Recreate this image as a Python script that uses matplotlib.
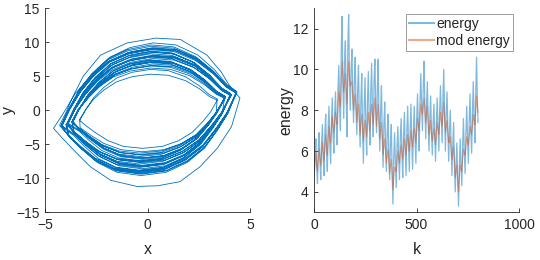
import matplotlib
matplotlib.use('Agg')
import matplotlib.pyplot as plt

plt.rcParams['font.family'] = ['Liberation Sans', 'DejaVu Sans']

# ---- left panel: phase trajectory (x, y), one row per loop (top arc, then bottom arc) ----
traj_x = [
    -3.67, -3.35, -2.93, -2.37, -1.67, -0.84, 0.14, 1.12, 2.05, 2.79, 3.35, 3.77, 3.39, 2.98, 2.42, 1.67, 0.79, -0.28, -1.3, -2.14, -2.79, -3.3,
    -3.9, -3.55, -3.05, -2.45, -1.7, -0.8, 0.25, 1.3, 2.3, 3.05, 3.62, 4.08, 3.6, 3.12, 2.5, 1.7, 0.75, -0.4, -1.5, -2.4, -3.08, -3.6,
    -3.95, -3.6, -3.15, -2.55, -1.8, -0.9, 0.15, 1.2, 2.2, 3.0, 3.6, 4.05, 3.65, 3.2, 2.6, 1.8, 0.85, -0.3, -1.4, -2.3, -3.0, -3.55,
    -4.2, -3.8, -3.28, -2.63, -1.83, -0.86, 0.26, 1.38, 2.45, 3.27, 3.88, 4.36, 3.86, 3.35, 2.7, 1.83, 0.81, -0.42, -1.6, -2.56, -3.28, -3.85,
    -4.23, -3.85, -3.37, -2.73, -1.93, -0.96, 0.16, 1.28, 2.35, 3.21, 3.85, 4.33, 3.91, 3.42, 2.78, 1.93, 0.91, -0.32, -1.5, -2.46, -3.21, -3.8,
    -4.2, -3.8, -3.28, -2.63, -1.83, -0.86, 0.26, 1.38, 2.45, 3.27, 3.88, 4.36, 3.86, 3.35, 2.7, 1.83, 0.81, -0.42, -1.6, -2.56, -3.28, -3.85,
    -3.95, -3.6, -3.15, -2.55, -1.8, -0.9, 0.15, 1.2, 2.2, 3.0, 3.6, 4.05, 3.65, 3.2, 2.6, 1.8, 0.85, -0.3, -1.4, -2.3, -3.0, -3.55,
    -3.9, -3.55, -3.05, -2.45, -1.7, -0.8, 0.25, 1.3, 2.3, 3.05, 3.62, 4.08, 3.6, 3.12, 2.5, 1.7, 0.75, -0.4, -1.5, -2.4, -3.08, -3.6,
    -3.67, -3.35, -2.93, -2.37, -1.67, -0.84, 0.14, 1.12, 2.05, 2.79, 3.35, 3.77, 3.39, 2.98, 2.42, 1.67, 0.79, -0.28, -1.3, -2.14, -2.79, -3.3,
    -3.7, -3.38, -2.85, -2.27, -1.57, -0.74, 0.24, 1.22, 2.15, 2.85, 3.38, 3.8, 3.35, 2.92, 2.34, 1.57, 0.69, -0.38, -1.4, -2.24, -2.86, -3.34,
    -3.67, -3.35, -2.93, -2.37, -1.67, -0.84, 0.14, 1.12, 2.05, 2.79, 3.35, 3.77, 3.39, 2.98, 2.42, 1.67, 0.79, -0.28, -1.3, -2.14, -2.79, -3.3,
    -3.32, -3.02, -2.65, -2.14, -1.51, -0.76, 0.13, 1.01, 1.85, 2.52, 3.02, 3.4, 3.07, 2.69, 2.18, 1.51, 0.71, -0.25, -1.18, -1.93, -2.52, -2.98,
    -3.32, -3.02, -2.65, -2.14, -1.51, -0.76, 0.13, 1.01, 1.85, 2.52, 3.02, 3.4, 3.35, 2.92, 2.34, 1.57, 0.69, -0.38, -1.4, -2.24, -2.86, -3.34,
    -3.7, -3.38, -2.85, -2.27, -1.57, -0.74, 0.24, 1.22, 2.15, 2.85, 3.38, 3.8, 3.39, 2.98, 2.42, 1.67, 0.79, -0.28, -1.3, -2.14, -2.79, -3.3,
    -3.67, -3.35, -2.93, -2.37, -1.67, -0.84, 0.14, 1.12, 2.05, 2.79, 3.35, 3.77, 3.65, 3.2, 2.6, 1.8, 0.85, -0.3, -1.4, -2.3, -3.0, -3.55,
    -3.9, -3.55, -3.05, -2.45, -1.7, -0.8, 0.25, 1.3, 2.3, 3.05, 3.62, 4.08, 3.6, 3.12, 2.5, 1.7, 0.75, -0.4, -1.5, -2.4, -3.08, -3.6,
    -4.23, -3.85, -3.37, -2.73, -1.93, -0.96, 0.16, 1.28, 2.35, 3.21, 3.85, 4.33, 3.91, 3.42, 2.78, 1.93, 0.91, -0.32, -1.5, -2.46, -3.21, -3.8,
    -4.3, -4.0, -3.7, -3.15, -2.3, -1.0, 0.4, 1.6, 2.9, 3.6, 4.0, 4.51, 4.1, 3.4, 2.56, 1.58, 0.5, -0.53, -1.8, -2.8, -3.63, -4.2,
    -4.6, -4.15, -3.55, -2.8, -1.93, -0.96, 0.16, 1.28, 2.35, 3.21, 3.85, 4.33, 3.86, 3.35, 2.7, 1.83, 0.81, -0.42, -1.6, -2.56, -3.28, -3.85,
    -3.95, -3.6, -3.15, -2.55, -1.8, -0.9, 0.15, 1.2, 2.2, 3.0, 3.6, 4.05, 3.65, 3.2, 2.6, 1.8, 0.85, -0.3, -1.4, -2.3, -3.0, -3.55,
    -3.9, -3.55, -3.05, -2.45, -1.7, -0.8, 0.25, 1.3, 2.3, 3.05, 3.62, 4.08, 3.6, 3.12, 2.5, 1.7, 0.75, -0.4, -1.5, -2.4, -3.08, -3.6,
    -3.7, -3.38, -2.85, -2.27, -1.57, -0.74, 0.24, 1.22, 2.15, 2.85, 3.38, 3.8, 3.35, 2.92, 2.34, 1.57, 0.69, -0.38, -1.4, -2.24, -2.86, -3.34,
    -3.67, -3.35, -2.93, -2.37, -1.67, -0.84, 0.14, 1.12, 2.05, 2.79, 3.35, 3.77, 3.39, 2.98, 2.42, 1.67, 0.79, -0.28, -1.3, -2.14, -2.79, -3.3,
    -3.7, -3.38, -2.85, -2.27, -1.57, -0.74, 0.24, 1.22, 2.15, 2.85, 3.38, 3.8, 3.35, 2.92, 2.34, 1.57, 0.69, -0.38, -1.4, -2.24, -2.86, -3.34,
    -3.95, -3.6, -3.15, -2.55, -1.8, -0.9, 0.15, 1.2, 2.2, 3.0, 3.6, 4.05, 3.65, 3.2, 2.6, 1.8, 0.85, -0.3, -1.4, -2.3, -3.0, -3.55,
    -3.9, -3.55, -3.05, -2.45, -1.7, -0.8, 0.25, 1.3, 2.3, 3.05, 3.62, 4.08, 3.6, 3.12, 2.5, 1.7, 0.75, -0.4, -1.5, -2.4, -3.08, -3.6,
    -4.23, -3.85, -3.37, -2.73, -1.93, -0.96, 0.16, 1.28, 2.35, 3.21, 3.85, 4.33, 3.91, 3.42, 2.78, 1.93, 0.91, -0.32, -1.5, -2.46, -3.21, -3.8,
    -4.2, -3.8, -3.28, -2.63, -1.83, -0.86, 0.26, 1.38, 2.45, 3.27, 3.88, 4.36, 3.86, 3.35, 2.7, 1.83, 0.81, -0.42, -1.6, -2.56, -3.28, -3.85,
    -4.0,
]
traj_y = [
    -1.75, 0.14, 2.1, 3.92, 5.53, 6.51, 7.0, 6.79, 5.74, 4.2, 2.66, 1.96, -0.36, -2.16, -4.18, -5.76, -6.84, -7.2, -6.84, -5.76, -4.32, -3.02,
    -1.9, 0.15, 2.28, 4.26, 6.0, 7.07, 7.6, 7.37, 6.23, 4.56, 2.89, 2.13, -0.4, -2.37, -4.58, -6.32, -7.5, -7.9, -7.5, -6.32, -4.74, -3.32,
    -2.08, 0.17, 2.49, 4.65, 6.56, 7.72, 8.3, 8.05, 6.81, 4.98, 3.15, 2.32, -0.43, -2.58, -4.99, -6.88, -8.17, -8.6, -8.17, -6.88, -5.16, -3.61,
    -2.25, 0.18, 2.7, 5.04, 7.11, 8.37, 9.0, 8.73, 7.38, 5.4, 3.42, 2.52, -0.46, -2.73, -5.28, -7.28, -8.65, -9.1, -8.65, -7.28, -5.46, -3.82,
    -2.4, 0.19, 2.88, 5.38, 7.58, 8.93, 9.6, 9.31, 7.87, 5.76, 3.65, 2.69, -0.47, -2.82, -5.45, -7.52, -8.93, -9.4, -8.93, -7.52, -5.64, -3.95,
    -2.3, 0.18, 2.76, 5.15, 7.27, 8.56, 9.2, 8.92, 7.54, 5.52, 3.5, 2.58, -0.44, -2.64, -5.1, -7.04, -8.36, -8.8, -8.36, -7.04, -5.28, -3.7,
    -2.15, 0.17, 2.58, 4.82, 6.79, 8.0, 8.6, 8.34, 7.05, 5.16, 3.27, 2.41, -0.41, -2.46, -4.76, -6.56, -7.79, -8.2, -7.79, -6.56, -4.92, -3.44,
    -1.98, 0.16, 2.37, 4.42, 6.24, 7.35, 7.9, 7.66, 6.48, 4.74, 3.0, 2.21, -0.38, -2.25, -4.35, -6.0, -7.13, -7.5, -7.13, -6.0, -4.5, -3.15,
    -1.83, 0.15, 2.19, 4.09, 5.77, 6.79, 7.3, 7.08, 5.99, 4.38, 2.77, 2.04, -0.35, -2.1, -4.06, -5.6, -6.65, -7.0, -6.65, -5.6, -4.2, -2.94,
    -1.7, 0.14, 2.04, 3.81, 5.37, 6.32, 6.8, 6.6, 5.58, 4.08, 2.58, 1.9, -0.33, -1.95, -3.77, -5.2, -6.18, -6.5, -6.18, -5.2, -3.9, -2.73,
    -1.55, 0.12, 1.86, 3.47, 4.9, 5.77, 6.2, 6.01, 5.08, 3.72, 2.36, 1.74, -0.31, -1.83, -3.54, -4.88, -5.8, -6.1, -5.8, -4.88, -3.66, -2.56,
    -1.33, 0.11, 1.59, 2.97, 4.19, 4.93, 5.3, 5.14, 4.35, 3.18, 2.01, 1.48, -0.28, -1.68, -3.25, -4.48, -5.32, -5.6, -5.32, -4.48, -3.36, -2.35,
    -1.5, 0.12, 1.8, 3.36, 4.74, 5.58, 6.0, 5.82, 4.92, 3.6, 2.28, 1.68, -0.32, -1.89, -3.65, -5.04, -5.99, -6.3, -5.99, -5.04, -3.78, -2.65,
    -1.65, 0.13, 1.98, 3.7, 5.21, 6.14, 6.6, 6.4, 5.41, 3.96, 2.51, 1.85, -0.33, -2.05, -4.1, -5.65, -6.7, -7.05, -6.7, -5.55, -4.15, -2.9,
    -1.85, 0.15, 2.22, 4.14, 5.85, 6.88, 7.4, 7.18, 6.07, 4.44, 2.81, 2.07, -0.39, -2.31, -4.47, -6.16, -7.32, -7.7, -7.32, -6.16, -4.62, -3.23,
    -2.03, 0.16, 2.43, 4.54, 6.4, 7.53, 8.1, 7.86, 6.64, 4.86, 3.08, 2.27, -0.42, -2.52, -4.87, -6.72, -7.98, -8.4, -7.98, -6.72, -5.04, -3.53,
    -2.23, 0.18, 2.67, 4.98, 7.03, 8.28, 8.9, 8.63, 7.3, 5.34, 3.38, 2.49, -0.47, -2.79, -5.39, -7.44, -8.84, -9.3, -8.84, -7.44, -5.58, -3.91,
    -2.2, -0.4, 1.7, 5.0, 8.1, 9.9, 10.6, 10.4, 8.1, 5.6, 3.6, 1.8, -2.4, -5.6, -8.3, -10.5, -11.1, -11.2, -10.3, -8.3, -5.8, -4.0,
    -2.65, -0.6, 2.4, 5.0, 7.43, 8.74, 9.4, 9.12, 7.71, 5.64, 3.57, 2.63, -0.45, -2.7, -5.22, -7.2, -8.55, -9.0, -8.55, -7.2, -5.4, -3.78,
    -2.18, 0.17, 2.61, 4.87, 6.87, 8.09, 8.7, 8.44, 7.13, 5.22, 3.31, 2.44, -0.42, -2.49, -4.81, -6.64, -7.89, -8.3, -7.89, -6.64, -4.98, -3.49,
    -2.0, 0.16, 2.4, 4.48, 6.32, 7.44, 8.0, 7.76, 6.56, 4.8, 3.04, 2.24, -0.38, -2.28, -4.41, -6.08, -7.22, -7.6, -7.22, -6.08, -4.56, -3.19,
    -1.78, 0.14, 2.13, 3.98, 5.61, 6.6, 7.1, 6.89, 5.82, 4.26, 2.7, 1.99, -0.34, -2.04, -3.94, -5.44, -6.46, -6.8, -6.46, -5.44, -4.08, -2.86,
    -1.63, 0.13, 1.95, 3.64, 5.14, 6.05, 6.5, 6.31, 5.33, 3.9, 2.47, 1.82, -0.33, -1.98, -3.83, -5.28, -6.27, -6.6, -6.27, -5.28, -3.96, -2.77,
    -1.8, 0.14, 2.16, 4.03, 5.69, 6.7, 7.2, 6.98, 5.9, 4.32, 2.74, 2.02, -0.37, -2.22, -4.29, -5.92, -7.03, -7.4, -7.03, -5.92, -4.44, -3.11,
    -1.95, 0.16, 2.34, 4.37, 6.16, 7.25, 7.8, 7.57, 6.4, 4.68, 2.96, 2.18, -0.41, -2.43, -4.7, -6.48, -7.7, -8.1, -7.7, -6.48, -4.86, -3.4,
    -2.13, 0.17, 2.55, 4.76, 6.72, 7.91, 8.5, 8.25, 6.97, 5.1, 3.23, 2.38, -0.45, -2.67, -5.16, -7.12, -8.46, -8.9, -8.46, -7.12, -5.34, -3.74,
    -2.28, 0.18, 2.73, 5.1, 7.19, 8.46, 9.1, 8.83, 7.46, 5.46, 3.46, 2.55, -0.48, -2.88, -5.57, -7.68, -9.12, -9.6, -9.12, -7.68, -5.76, -4.03,
    -2.48, 0.2, 2.97, 5.54, 7.82, 9.21, 9.9, 9.6, 8.12, 5.94, 3.76, 2.77, -0.46, -2.76, -5.34, -7.36, -8.74, -9.2, -8.74, -7.36, -5.52, -3.86,
    -2.1,
]

# ---- right panel: energy vs k ----
k = list(range(1, 800, 4)) + [800]
energy = [
    5.0, 5.9, 6.6, 5.2, 4.4, 6.2, 6.9, 5.5, 4.6, 6.4, 7.3, 5.6, 4.8, 6.9, 7.8, 5.9, 5.0, 7.1, 8.2, 6.3,
    5.4, 7.4, 8.6, 6.8, 5.9, 7.9, 8.9, 7.2, 6.3, 9.0, 10.2, 8.1, 7.0, 11.0, 12.6, 9.2, 7.6, 10.4, 11.4, 8.6,
    6.7, 11.2, 12.7, 9.6, 8.0, 10.0, 11.0, 8.8, 7.4, 9.5, 10.6, 8.2, 6.8, 9.0, 10.2, 7.6, 6.2, 8.6, 9.8, 7.0,
    5.4, 8.3, 9.6, 7.2, 5.8, 8.5, 9.9, 7.6, 6.3, 8.9, 10.3, 8.0, 6.7, 9.4, 10.5, 8.2, 6.9, 9.1, 10.5, 7.6,
    6.0, 8.0, 9.2, 6.8, 5.2, 7.3, 8.4, 6.3, 5.0, 6.9, 7.8, 5.8, 4.6, 6.4, 7.3, 5.1, 3.4, 5.6, 6.9, 5.4,
    4.2, 6.2, 7.2, 5.7, 4.6, 6.6, 7.6, 5.8, 4.7, 6.8, 7.9, 6.0, 4.8, 7.0, 8.2, 6.3, 5.0, 7.1, 8.3, 6.4,
    5.1, 7.0, 8.2, 6.6, 5.4, 7.6, 8.8, 7.2, 6.0, 8.4, 9.8, 8.2, 7.0, 9.2, 10.4, 8.1, 6.6, 8.3, 9.4, 7.4,
    6.0, 7.6, 8.7, 7.0, 5.8, 7.3, 8.3, 6.7, 5.5, 7.4, 8.6, 7.1, 6.0, 8.0, 9.2, 7.6, 6.4, 8.6, 10.0, 7.8,
    6.0, 7.8, 8.9, 7.0, 5.5, 7.0, 8.0, 6.2, 4.8, 6.3, 7.4, 5.4, 4.0, 5.4, 6.4, 4.6, 3.3, 5.1, 6.6, 5.3,
    4.3, 6.2, 7.6, 6.0, 4.9, 6.8, 8.2, 6.6, 5.4, 7.4, 8.8, 7.0, 5.9, 7.9, 9.4, 7.6, 6.4, 8.8, 10.6, 8.4,
    7.4,
]
mod_energy = [
    4.8, 5.4, 5.9, 5.3, 5.0, 5.7, 6.1, 5.6, 5.3, 5.9, 6.4, 5.9, 5.5, 6.2, 6.8, 6.2, 5.8, 6.6, 7.2, 6.7,
    6.4, 7.1, 7.7, 7.2, 6.9, 7.5, 7.9, 7.5, 7.3, 8.2, 8.9, 8.5, 8.2, 9.4, 10.4, 9.6, 8.9, 9.3, 9.8, 9.0,
    8.3, 9.5, 10.4, 9.7, 9.2, 9.3, 9.4, 8.6, 8.0, 8.5, 8.8, 8.0, 7.4, 7.9, 8.3, 7.5, 6.8, 7.4, 7.8, 7.1,
    6.5, 7.0, 7.5, 7.1, 6.7, 7.3, 7.9, 7.4, 7.0, 7.7, 8.3, 7.8, 7.3, 8.0, 8.6, 7.9, 7.2, 7.8, 8.3, 7.4,
    6.6, 7.0, 7.4, 6.6, 5.8, 6.2, 6.6, 6.0, 5.4, 5.8, 6.1, 5.5, 4.9, 5.3, 5.6, 4.8, 4.1, 4.7, 5.2, 5.1,
    5.0, 5.5, 6.0, 5.7, 5.4, 5.9, 6.3, 6.0, 5.6, 6.1, 6.6, 6.2, 5.8, 6.3, 6.8, 6.4, 6.0, 6.5, 7.0, 6.6,
    6.2, 6.7, 7.1, 6.8, 6.4, 7.0, 7.6, 7.3, 7.0, 7.7, 8.3, 8.0, 7.8, 8.2, 8.6, 8.0, 7.4, 7.8, 8.2, 7.5,
    6.8, 7.1, 7.5, 6.8, 6.5, 6.8, 7.1, 6.7, 6.3, 6.9, 7.4, 7.1, 6.8, 7.4, 7.9, 7.5, 7.2, 7.8, 8.4, 7.6,
    6.9, 7.2, 7.5, 6.9, 6.4, 6.5, 6.7, 6.1, 5.6, 5.9, 6.2, 5.5, 4.7, 5.0, 5.3, 4.6, 4.0, 4.7, 5.3, 5.1,
    5.0, 5.6, 6.1, 5.9, 5.8, 6.2, 6.7, 6.5, 6.3, 6.7, 7.2, 7.0, 6.8, 7.3, 7.8, 7.5, 7.3, 8.0, 8.7, 8.2,
    7.9,
]

left_xticks = [-5, 0, 5]
left_yticks = [-15, -10, -5, 0, 5, 10, 15]
right_xticks = [0, 500, 1000]
right_yticks = [4, 6, 8, 10, 12]

BLUE = '#0072BD'
ORANGE = '#D95319'
AXC = '#262626'

fig = plt.figure(figsize=(5.4, 2.6), dpi=100)
ax1 = fig.add_axes([0.0839, 0.1835, 0.379, 0.785])
ax2 = fig.add_axes([0.5815, 0.1835, 0.3796, 0.785])

for ax in (ax1, ax2):
    for s in ('top', 'right'):
        ax.spines[s].set_visible(False)
    for s in ('left', 'bottom'):
        ax.spines[s].set_color(AXC)
        ax.spines[s].set_linewidth(0.6)
    ax.tick_params(direction='in', length=3, width=0.6, colors=AXC,
                   labelsize=10, pad=4)

ax1.plot(traj_x, traj_y, color=BLUE, lw=0.6)
ax1.set_xlim(-5, 5)
ax1.set_ylim(-15, 15)
ax1.set_xticks(left_xticks)
ax1.set_yticks(left_yticks)
ax1.set_xlabel('x', fontsize=11.5, color=AXC, va='center')
ax1.set_ylabel('y', fontsize=11.5, color=AXC, va='center')
ax1.xaxis.set_label_coords(0.5, -0.18)
ax1.yaxis.set_label_coords(-0.18, 0.5)

ax2.plot(k, energy, color=BLUE, alpha=0.5, lw=0.9, label='energy')
ax2.plot(k, mod_energy, color=ORANGE, alpha=0.5, lw=0.8, label='mod energy')
ax2.set_xlim(0, 1000)
ax2.set_ylim(3, 13)
ax2.set_xticks(right_xticks)
ax2.set_yticks(right_yticks)
ax2.set_xlabel('k', fontsize=11.5, color=AXC, va='center')
ax2.set_ylabel('energy', fontsize=11.5, color=AXC, va='center')
ax2.xaxis.set_label_coords(0.5, -0.18)
ax2.yaxis.set_label_coords(-0.137, 0.5)
leg = ax2.legend(loc='upper right', bbox_to_anchor=(0.97, 0.97), fontsize=10,
                 frameon=True, fancybox=False, framealpha=1, edgecolor='#8c8c8c',
                 handlelength=1.8, handletextpad=0.2, borderpad=0.2,
                 labelspacing=0.2, borderaxespad=0)
leg.get_frame().set_linewidth(0.6)
for ln in leg.get_lines():
    ln.set_linewidth(1.5)
for t in leg.get_texts():
    t.set_color(AXC)

fig.savefig('out.png', dpi=100)
